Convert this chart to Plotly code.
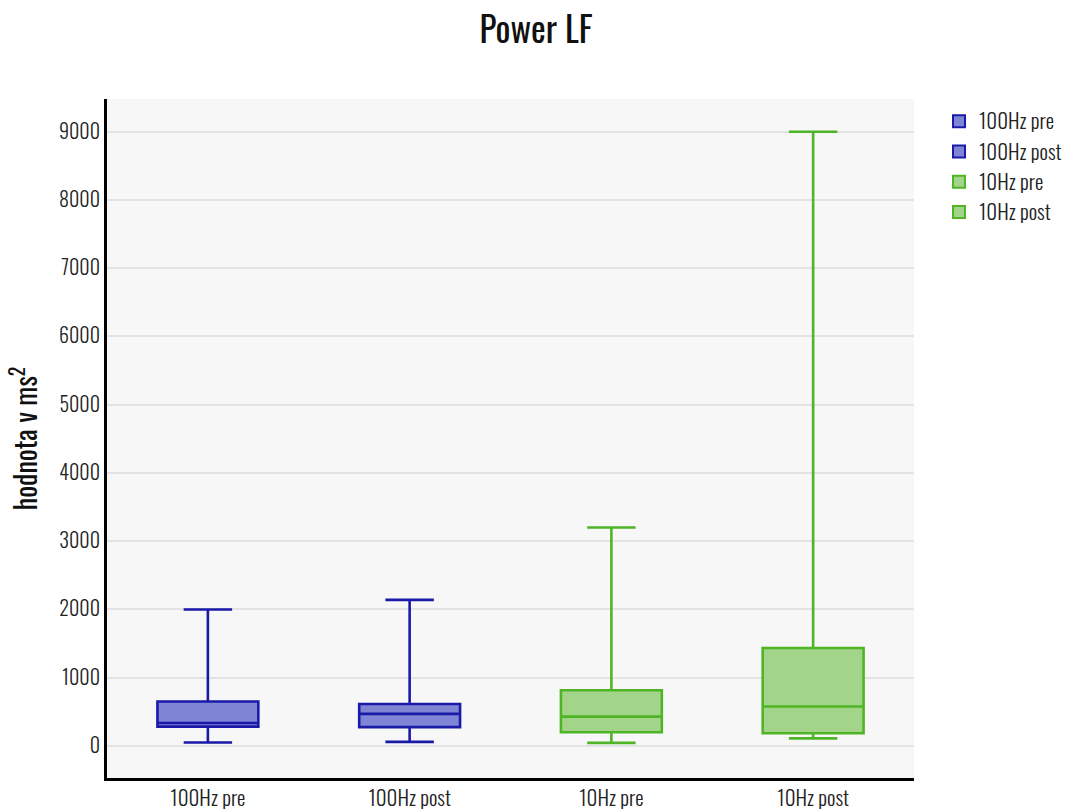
import plotly.graph_objects as go

# Summary statistics for each measurement group (values in ms²)
groups = ["100Hz pre", "100Hz post", "10Hz pre", "10Hz post"]
lower_fence = [50, 60, 45, 110]
q1 = [283, 275, 200, 185]
median = [335, 470, 430, 577]
q3 = [650, 615, 815, 1435]
upper_fence = [2000, 2140, 3200, 9000]

line_colors = ["#1a1aa8", "#1a1aa8", "#4fb526", "#4fb526"]
fill_colors = ["#7f84d4", "#7f84d4", "#a2d58a", "#a2d58a"]

FONT = "Oswald, Roboto Condensed, sans-serif"

fig = go.Figure()
for i, g in enumerate(groups):
    fig.add_trace(go.Box(
        name=g,
        x=[g],
        q1=[q1[i]],
        median=[median[i]],
        q3=[q3[i]],
        lowerfence=[lower_fence[i]],
        upperfence=[upper_fence[i]],
        line=dict(color=line_colors[i], width=2.6),
        fillcolor=fill_colors[i],
        whiskerwidth=0.48,
        width=0.5,
        hoverinfo="y",
    ))

fig.update_layout(
    width=1072,
    height=809,
    margin=dict(l=107, r=158, t=99, b=31, autoexpand=False),
    paper_bgcolor="white",
    plot_bgcolor="#f7f7f7",
    font=dict(family=FONT, size=20, weight=300, color="#222222"),
    title=dict(text="Power LF", x=0.5, xanchor="center", y=0.962, yanchor="middle",
               font=dict(family=FONT, size=35, weight=400, color="#111111")),
    showlegend=True,
    legend=dict(x=1.031, y=0.997, xanchor="left", yanchor="top",
                font=dict(family=FONT, size=21, weight=300, color="#222222"),
                tracegroupgap=0, itemsizing="constant"),
    xaxis=dict(
        type="category",
        categoryorder="array",
        categoryarray=groups,
        range=[-0.5, 3.5],
        showline=True, linecolor="black", linewidth=3,
        showgrid=False, ticks="", tickfont=dict(size=21),
        zeroline=False, automargin=False,
    ),
    yaxis=dict(
        range=[-470, 9480],
        tickmode="array",
        tickvals=[0, 1000, 2000, 3000, 4000, 5000, 6000, 7000, 8000, 9000],
        ticktext=["0", "1000", "2000", "3000", "4000", "5000", "6000", "7000", "8000", "9000"],
        showline=True, linecolor="black", linewidth=3,
        showgrid=True, gridcolor="#e3e3e6", gridwidth=1.5,
        zeroline=False, ticks="", ticklen=0,
        tickfont=dict(size=20), automargin=False,
        title=dict(text="hodnota v ms<sup>2</sup>", font=dict(family=FONT, size=28, weight=400, color="#111111"),
                   standoff=14),
    ),
)

fig.write_html("out.html")
